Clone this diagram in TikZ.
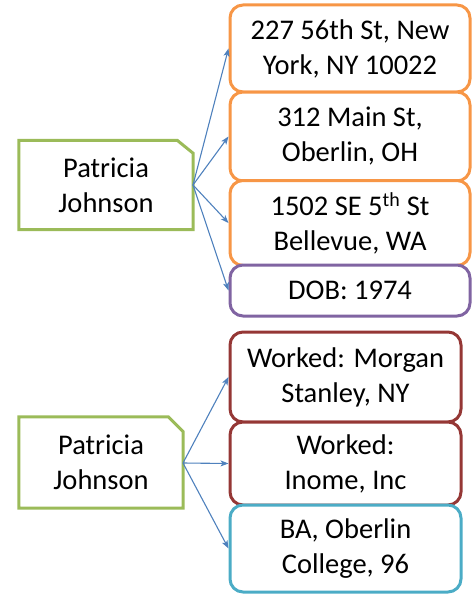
\documentclass[tikz,border=0pt]{standalone}
\usepackage{fontspec}
\setmainfont{Carlito}
\usetikzlibrary{arrows.meta}
\definecolor{cOrange}{HTML}{F79646}
\definecolor{cPurple}{HTML}{8064A2}
\definecolor{cRed}{HTML}{953735}
\definecolor{cCyan}{HTML}{4BACC6}
\definecolor{cGreen}{HTML}{9BBB59}
\definecolor{cArrow}{HTML}{4F81BD}
\begin{document}
\begin{tikzpicture}[x=1pt,y=-1pt,
  txt/.style={font=\fontsize{28.5}{35}\selectfont, align=center, text=black, inner sep=0pt},
  infobox/.style={txt, draw=#1, line width=3pt, rounded corners=13pt, fill=white},
  person/.style={txt, draw=none},
  link/.style={draw=cArrow, line width=1.1pt, -{Stealth[length=8pt,width=6pt,inset=2pt]}}
]
\useasboundingbox (0,0) rectangle (473,594);
% top group
\node[infobox=cOrange, minimum width=240pt, minimum height=87pt] (a1) at (350,48.5) {227 56th St, New\\York, NY 10022};
\node[infobox=cOrange, minimum width=240pt, minimum height=89pt] (a2) at (350,136.5) {312 Main St,\\Oberlin, OH};
\node[infobox=cOrange, minimum width=240pt, minimum height=85pt] (a3) at (350,223) {1502 SE 5\textsuperscript{th} St\\Bellevue, WA};
\node[infobox=cPurple, minimum width=240pt, minimum height=51pt] (a4) at (350,290.5) {DOB: 1974};
\node[person, minimum width=174pt, minimum height=89pt] (p1) at (106,185) {Patricia\\Johnson};
\draw[cGreen, line width=3pt, line join=miter] (p1.south west) -- (p1.north west) -- ([xshift=-16pt]p1.north east) -- ([yshift=-13pt]p1.north east) -- (p1.south east) -- cycle;
\coordinate (s1) at (193,185);
\foreach \t in {a1,a2,a3,a4} \draw[link] (s1) -- (\t.west);
% bottom group
\node[infobox=cRed, minimum width=231pt, minimum height=90pt] (b1) at (345.5,377) {Worked: Morgan\\Stanley, NY};
\node[infobox=cRed, minimum width=231pt, minimum height=83pt] (b2) at (345.5,463.5) {Worked:\\Inome, Inc};
\node[infobox=cCyan, minimum width=231pt, minimum height=87pt] (b3) at (345.5,548.5) {BA, Oberlin\\College, 96};
\node[person, minimum width=164pt, minimum height=91pt] (p2) at (101,462.5) {Patricia\\Johnson};
\draw[cGreen, line width=3pt, line join=miter] (p2.south west) -- (p2.north west) -- ([xshift=-15pt]p2.north east) -- ([yshift=-15pt]p2.north east) -- (p2.south east) -- cycle;
\coordinate (s2) at (183,463);
\foreach \t in {b1,b2,b3} \draw[link] (s2) -- (\t.west);
\end{tikzpicture}
\end{document}
